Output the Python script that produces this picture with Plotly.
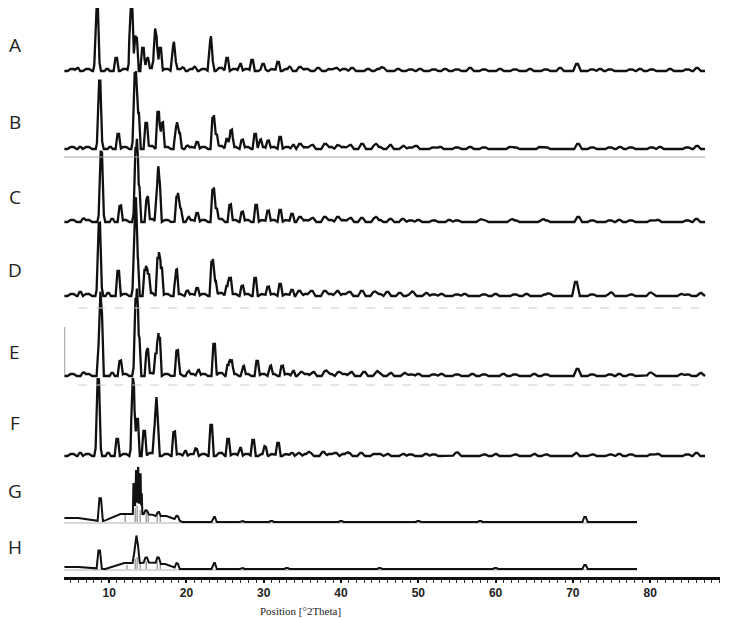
import numpy as np
import plotly.graph_objects as go

# stacked XRD patterns, intensity in arbitrary units (1 unit ~ 1 px in the source figure)
labels = ["A", "B", "C", "D", "E", "F", "G", "H"]
offsets = [506, 428, 355, 281, 201, 121, 55, 8]
label_y = [532, 455, 380, 307, 225, 154, 86, 30]

# main reflections (°2θ, height)
A_pos = [5.9, 8.25, 8.41, 8.6, 9.74, 10.91, 12.7, 12.85, 13.1, 13.49, 14.36, 14.92, 15.85, 16.04, 16.6,
         18.28, 18.5, 19.57, 21.13, 23.07, 23.3, 25.26, 26.95, 28.5, 29.92, 31.86, 33.42]
A_int = [3, 9, 59, 10, 2, 13, 10, 60, 12, 33, 23, 12, 10, 32, 23,
         21, 9, 3, 3, 26, 10, 13, 7, 11, 5, 9, 3]
B_pos = [6.25, 8.6, 8.75, 8.95, 10.13, 11.17, 13.2, 13.36, 13.75, 14.79, 16.34, 16.86, 18.67, 19.06,
         20.09, 21.39, 23.45, 23.84, 25.26, 25.78, 27.21, 28.89, 29.54, 30.57, 32.12, 33.8]
B_int = [2, 9, 56, 9, 2, 15, 10, 67, 36, 26, 37, 26, 22, 14,
         3, 7, 31, 14, 10, 18, 9, 15, 8, 8, 12, 4]
C_pos = [6.64, 8.8, 8.97, 9.15, 10.39, 11.43, 13.3, 13.49, 13.82, 14.92, 16.21, 16.47, 18.8, 19.18,
         20.22, 21.39, 23.45, 23.84, 25.65, 27.21, 29.02, 30.57, 32.12, 33.67]
C_int = [3, 9, 58, 9, 3, 16, 10, 65, 35, 24, 25, 37, 24, 12,
         4, 9, 32, 13, 17, 10, 17, 11, 12, 8]
D_pos = [6.25, 8.55, 8.71, 8.9, 9.87, 11.17, 13.2, 13.36, 13.62, 14.66, 15.05, 16.34, 16.73, 18.67,
         20.09, 21.39, 23.32, 23.71, 25.26, 25.65, 27.21, 28.89, 30.57, 32.12, 33.67]
D_int = [4, 9, 60, 10, 3, 25, 10, 67, 38, 26, 20, 38, 28, 25,
         5, 8, 34, 15, 10, 17, 10, 18, 9, 12, 6]
E_pos = [6.64, 8.71, 8.97, 10.39, 11.43, 13.3, 13.49, 13.82, 14.92, 16.08, 16.47, 18.8, 20.22,
         21.52, 23.58, 25.39, 25.78, 27.34, 29.15, 30.83, 32.38, 33.8]
E_int = [3, 30, 62, 3, 15, 10, 68, 38, 26, 23, 38, 24, 4,
         6, 32, 11, 14, 9, 15, 9, 10, 5]
F_pos = [6.25, 8.4, 8.58, 8.75, 9.87, 11.04, 12.95, 13.1, 13.62, 14.53, 15.95, 16.21, 18.41, 19.83,
         21.26, 23.2, 25.39, 26.95, 28.63, 30.18, 31.86, 33.67]
F_int = [3, 10, 63, 10, 3, 17, 10, 68, 37, 25, 28, 38, 24, 5,
         7, 31, 17, 8, 16, 8, 13, 3]
G_pos = [8.84, 14.79, 16.34, 18.8, 23.58, 27.2, 31.0, 40.0, 50.0, 58.0, 71.58]
G_int = [23, 4, 4, 4, 5, 1, 1, 1, 1, 1, 5]
H_pos = [8.71, 13.37, 13.62, 14.79, 16.34, 18.8, 23.58, 27.2, 33.0, 45.0, 60.0, 71.58]
H_int = [18, 12, 18, 5, 6, 5, 6, 1, 1, 1, 1, 4]

# jagged cluster of the strongest G reflection
G_spike_pos = [13.15, 13.3, 13.45, 13.6, 13.75, 13.9, 14.05, 14.2]
G_spike_int = [30, 18, 44, 26, 46, 24, 40, 20]

# weak background reflections above 34 °2θ
A_minor_pos = [34.7, 37.04, 39.37, 41.44, 43.5, 45.45, 47.39, 50.23, 53.47, 56.7, 60.58, 64.46, 68.35,
               70.54, 73.52, 78.7, 82.58, 86.07]
A_minor_int = [4, 3, 3, 3, 2, 3, 2, 2, 2, 3, 2, 2, 3, 7, 2, 2, 2, 3]
B_minor_pos = [34.7, 36.26, 37.94, 39.62, 41.18, 42.73, 44.41, 46.35, 48.03, 49.71, 52.82, 56.7, 61.88,
               65.76, 70.67, 76.1, 81.28, 86.07]
B_minor_int = [5, 4, 5, 4, 4, 5, 4, 4, 3, 3, 2, 2, 2, 2, 5, 2, 2, 3]
C_minor_pos = [34.7, 36.3, 37.9, 39.6, 41.2, 42.7, 44.4, 46.4, 48.0, 50.0, 54.0, 58.0, 62.0, 66.0,
               70.7, 76.0, 81.0, 86.0]
C_minor_int = [5, 4, 5, 5, 4, 4, 4, 3, 3, 2, 2, 2, 2, 2, 5, 2, 2, 3]
D_minor_pos = [34.6, 36.2, 37.9, 39.5, 41.1, 42.7, 44.3, 46.0, 47.6, 49.3, 51.0, 53.0, 56.0, 60.0,
               64.0, 67.0, 70.4, 75.0, 80.0, 84.0, 86.5]
D_minor_int = [5, 5, 5, 5, 4, 5, 4, 4, 3, 3, 3, 2, 2, 2, 2, 2, 14, 2, 2, 2, 3]
E_minor_pos = [34.8, 36.4, 38.0, 39.7, 41.3, 43.0, 44.6, 46.4, 48.2, 50.0, 53.0, 57.0, 61.0, 65.0,
               70.6, 76.0, 80.0, 84.0, 86.5]
E_minor_int = [4, 4, 5, 4, 4, 4, 3, 3, 3, 2, 2, 2, 2, 2, 7, 2, 2, 2, 3]
F_minor_pos = [34.5, 36.0, 37.7, 39.3, 41.0, 42.6, 44.3, 46.0, 48.0, 51.0, 55.0, 60.0, 65.0, 70.4,
               76.0, 81.0, 86.0]
F_minor_int = [3, 3, 4, 3, 3, 3, 2, 2, 2, 2, 2, 2, 2, 3, 2, 2, 3]

# low ripple of the background shared by A-F
ripple_pos = [5.2, 7.2, 12.0, 15.4, 17.4, 19.0, 20.7, 22.2, 24.4, 26.2, 27.8, 29.9, 31.2, 33.0,
              35.5, 38.6, 40.4, 44.9, 49.0, 52.0, 55.0, 58.5, 62.5, 66.5, 72.5, 74.8, 77.5, 80.2, 84.8]
ripple_int = [2, 2, 2, 3, 2, 2, 2, 2, 3, 2, 2, 2, 2, 2, 2, 2, 2, 2, 1.5, 1.5, 1.5, 1.5, 1.5, 1.5,
              1.5, 1.5, 1.5, 1.5, 1.5]

# broad amorphous humps of G and H (centre, height, half width)
G_hump_pos = [4.5, 12.5, 16.5]
G_hump_int = [4, 8, 6]
G_hump_wid = [5.0, 3.5, 3.0]
H_hump_pos = [4.5, 13.0, 16.5]
H_hump_int = [2, 6, 5]
H_hump_wid = [5.0, 3.5, 2.5]

# reference sticks drawn under G and H
G_ref_pos = [12.07, 13.36, 13.62, 14.01, 14.79, 15.05, 16.21, 16.6]
G_ref_int = [8, 14, 16, 12, 12, 8, 10, 6]
H_ref_pos = [12.3, 13.36, 13.62, 14.01, 14.79, 16.21, 16.6]
H_ref_int = [4, 10, 12, 8, 8, 8, 5]

scan_end = [87.1] * 6 + [78.3, 78.3]
scan_start = 4.2

# peak shape: trapezoid (half width at base, half width at top)
SHARP = (0.34, 0.1)
MINOR = (0.5, 0.12)
RIPPLE = (0.6, 0.2)
SPIKE = (0.09, 0.02)


def profile(x0, x1, pos, inten, wid, top):
    pos = np.asarray(pos, float)
    inten = np.asarray(inten, float)
    wid = np.asarray(wid, float)
    top = np.asarray(top, float)
    xs = np.unique(np.concatenate([[x0, x1], pos - wid, pos - top, pos, pos + top, pos + wid]))
    xs = xs[(xs >= x0) & (xs <= x1)]
    d = np.abs(xs[:, None] - pos[None, :])
    shape = np.clip((wid[None, :] - d) / (wid - top)[None, :], 0, 1)
    return xs, (shape * inten[None, :]).sum(axis=1)


def build(groups, x0, x1):
    p, h, w, t = [], [], [], []
    for pos, inten, kind in groups:
        p += list(pos)
        h += list(inten)
        if isinstance(kind, tuple):
            w += [kind[0]] * len(pos)
            t += [kind[1]] * len(pos)
        else:
            w += list(kind)
            t += [0.3 * k for k in kind]
    return profile(x0, x1, p, h, w, t)


main = [(A_pos, A_int), (B_pos, B_int), (C_pos, C_int), (D_pos, D_int), (E_pos, E_int), (F_pos, F_int)]
minor = [(A_minor_pos, A_minor_int), (B_minor_pos, B_minor_int), (C_minor_pos, C_minor_int),
         (D_minor_pos, D_minor_int), (E_minor_pos, E_minor_int), (F_minor_pos, F_minor_int)]

fig = go.Figure()

for i in range(6):
    xs, ys = build([(main[i][0], main[i][1], SHARP),
                    (minor[i][0], minor[i][1], MINOR),
                    (ripple_pos, ripple_int, RIPPLE)], scan_start, scan_end[i])
    fig.add_trace(go.Scatter(x=xs, y=ys + offsets[i], mode="lines",
                             line=dict(color="#111111", width=2.3), hoverinfo="skip"))

g_groups = [(G_pos, G_int, SHARP), (G_spike_pos, G_spike_int, SPIKE),
            (G_hump_pos, G_hump_int, G_hump_wid)]
h_groups = [(H_pos, H_int, SHARP), (H_hump_pos, H_hump_int, H_hump_wid)]

for k, (groups, rp, ri) in enumerate([(g_groups, G_ref_pos, G_ref_int), (h_groups, H_ref_pos, H_ref_int)]):
    i = 6 + k
    base = offsets[i]
    sx, sy = [], []
    for x, v in zip(rp, ri):
        sx += [x, x, None]
        sy += [base, base + v, None]
    fig.add_trace(go.Scatter(x=sx, y=sy, mode="lines", line=dict(color="#8a8a8a", width=1.2),
                             hoverinfo="skip"))
    fig.add_trace(go.Scatter(x=[scan_start, scan_end[i]], y=[base - 1, base - 1], mode="lines",
                             line=dict(color="#b0b0b0", width=1), hoverinfo="skip"))
    xs, ys = build(groups, scan_start, scan_end[i])
    fig.add_trace(go.Scatter(x=xs, y=ys + base, mode="lines",
                             line=dict(color="#111111", width=2), hoverinfo="skip"))

# faint separator lines left over in the composite figure
fig.add_shape(type="line", x0=4.0, x1=87.1, y0=420, y1=420, line=dict(color="#a0a0a0", width=1))
fig.add_shape(type="line", x0=6.0, x1=87.1, y0=269, y1=269, line=dict(color="#cccccc", width=1, dash="dash"))
fig.add_shape(type="line", x0=6.0, x1=87.1, y0=192, y1=192, line=dict(color="#cccccc", width=1, dash="dash"))
fig.add_shape(type="line", x0=4.25, x1=4.25, y0=202, y1=250, line=dict(color="#9a9a9a", width=1))

for lab, ly in zip(labels, label_y):
    fig.add_annotation(text=lab, x=-0.0747, xref="paper", y=ly, yref="y", showarrow=False,
                       xanchor="center", yanchor="middle",
                       font=dict(family="Open Sans", size=19, color="#222222"))

fig.add_annotation(text="Position [°2Theta]", x=0.36, xref="paper", y=-0.059, yref="paper",
                   showarrow=False, xanchor="center", yanchor="middle",
                   font=dict(family="Liberation Serif", size=11, color="#222222"))

# the page body adds an 8 px margin, so the figure is 8 px smaller than the window
fig.update_layout(
    width=724, height=610,
    margin=dict(l=56, r=12, t=0, b=41),
    paper_bgcolor="white", plot_bgcolor="white",
    showlegend=False,
    xaxis=dict(range=[4.15, 89.04], tickmode="array", tickvals=[10, 20, 30, 40, 50, 60, 70, 80],
               showgrid=False, zeroline=False, showline=True, linecolor="#111111", linewidth=3,
               ticks="outside", ticklen=3, tickwidth=2, tickcolor="#111111",
               tickfont=dict(family="Liberation Sans", size=12, color="#222222", weight="bold"),
               minor=dict(dtick=1, ticks="outside", ticklen=3, tickwidth=1, tickcolor="#333333",
                          showgrid=False)),
    yaxis=dict(range=[0, 569], visible=False, showgrid=False, zeroline=False),
)

fig.write_html("out.html")
